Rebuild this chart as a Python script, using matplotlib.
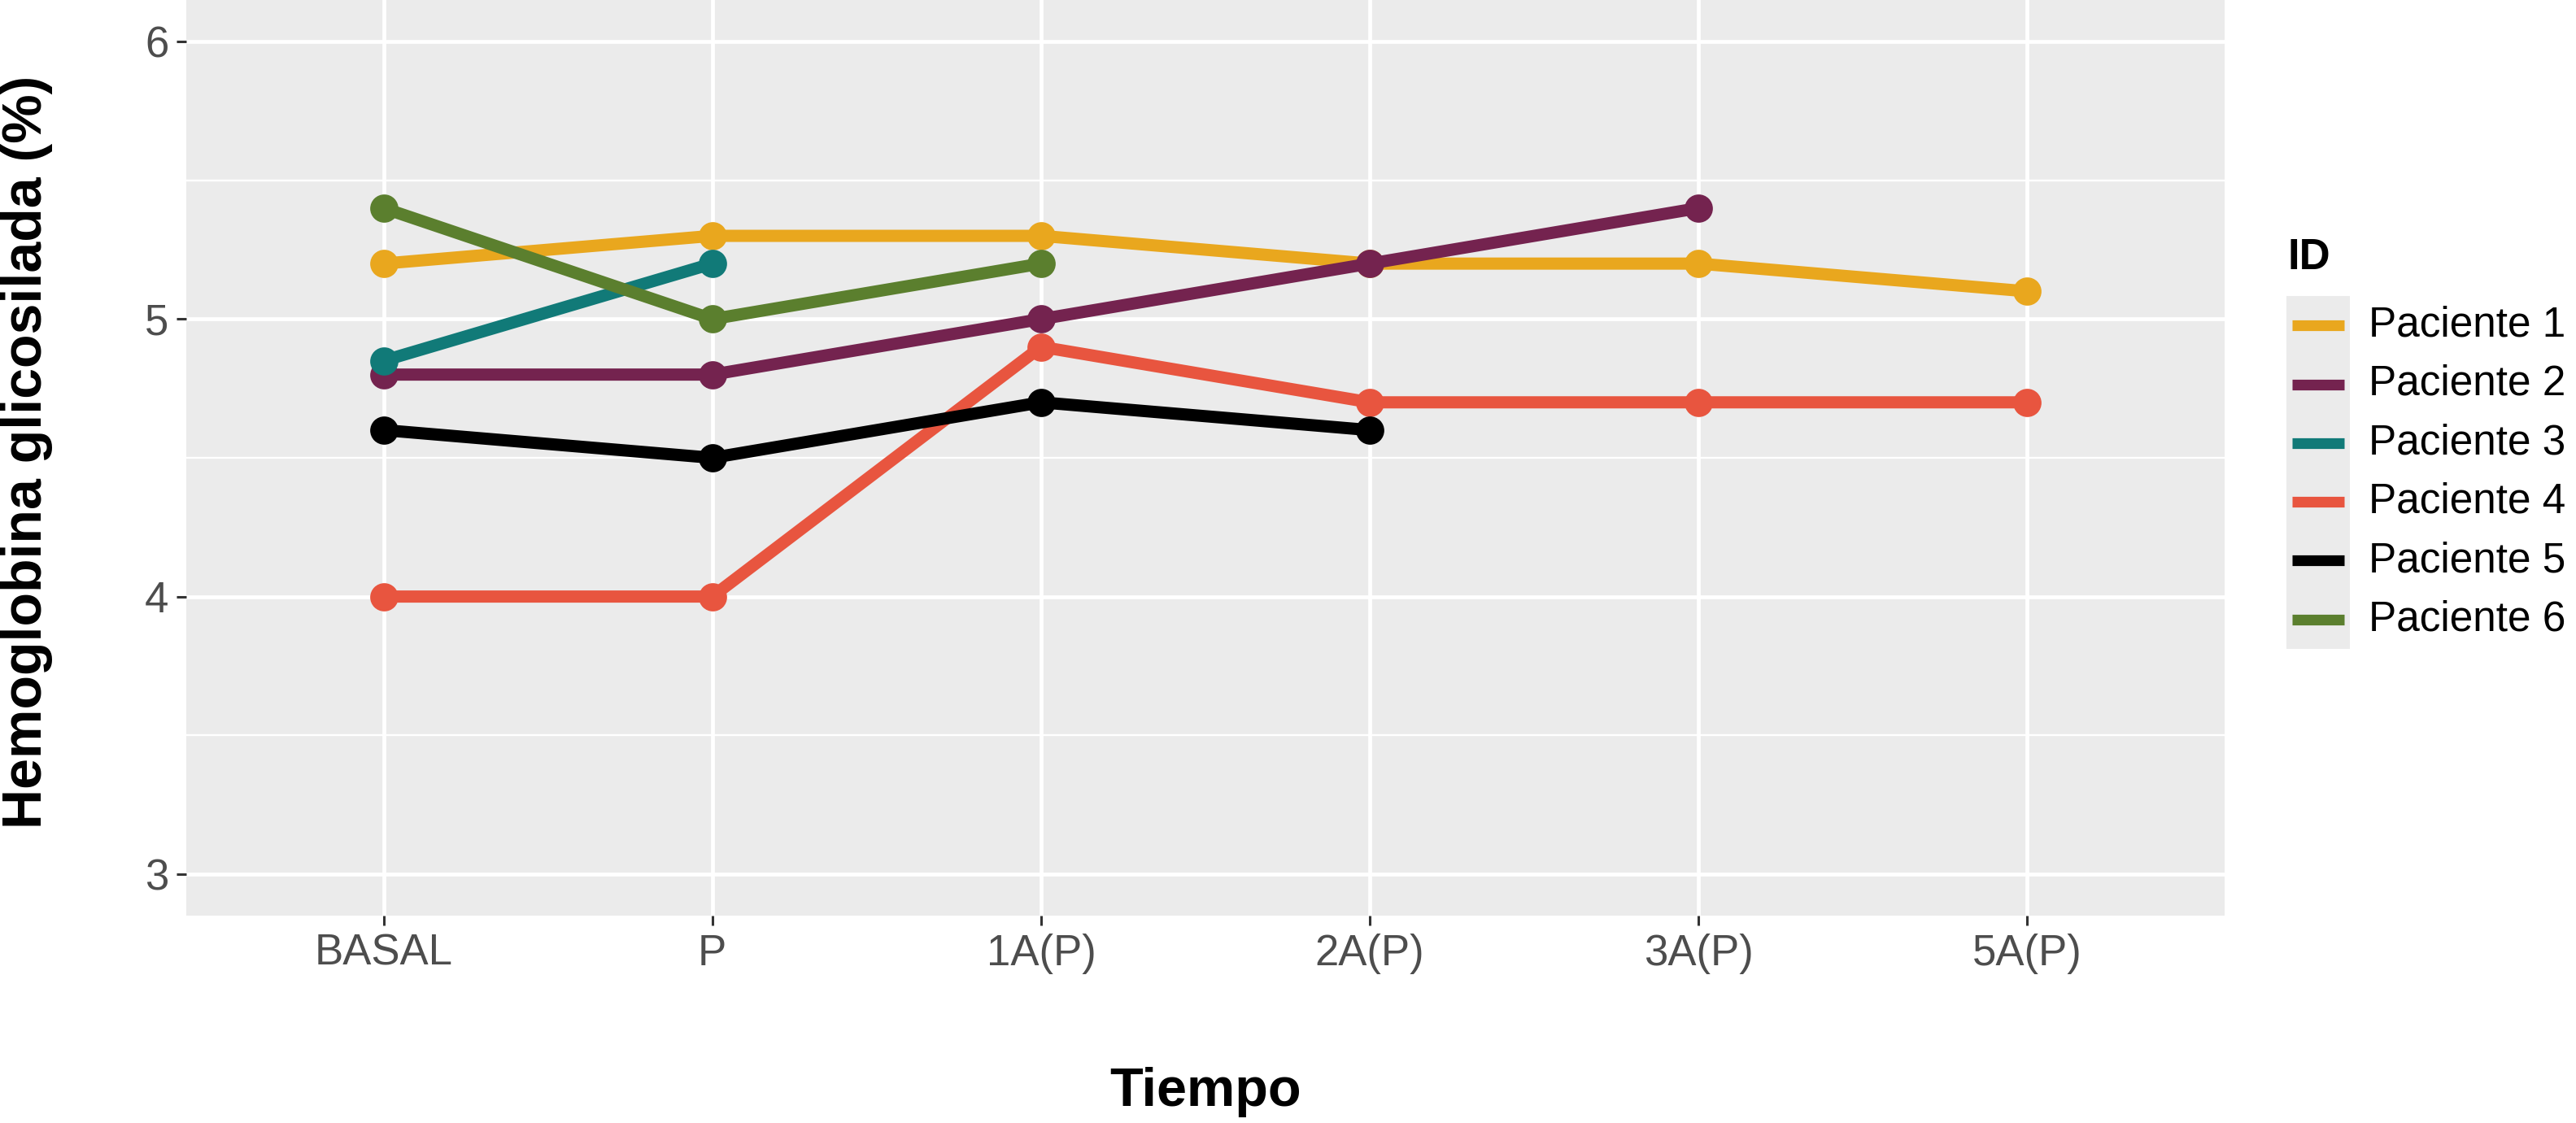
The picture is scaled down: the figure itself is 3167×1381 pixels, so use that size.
import numpy as np
import matplotlib
matplotlib.use("Agg")
import matplotlib.pyplot as plt

plt.rcParams["font.family"] = ["Liberation Sans", "DejaVu Sans"]

# data
tiempos = ["BASAL", "P", "1A(P)", "2A(P)", "3A(P)", "5A(P)"]
pacientes = ["Paciente 1", "Paciente 2", "Paciente 3", "Paciente 4", "Paciente 5", "Paciente 6"]
paciente_1 = [5.2, 5.3, 5.3, 5.2, 5.2, 5.1]
paciente_2 = [4.8, 4.8, 5.0, 5.2, 5.4]
paciente_3 = [4.85, 5.2]
paciente_4 = [4.0, 4.0, 4.9, 4.7, 4.7, 4.7]
paciente_5 = [4.6, 4.5, 4.7, 4.6]
paciente_6 = [5.4, 5.0, 5.2]
series = [paciente_1, paciente_2, paciente_3, paciente_4, paciente_5, paciente_6]
colores = ["#E9A71E", "#74234F", "#117A78", "#E8553F", "#000000", "#5B7F2E"]
y_ticks = [3, 4, 5, 6]

W, H = 3167, 1381
fig = plt.figure(figsize=(W / 100, H / 100), dpi=100)
ax = fig.add_axes([229 / W, 1 - 1126 / H, (2735 - 229) / W, 1126 / H])
ax.set_facecolor("#EBEBEB")

x = np.arange(len(tiempos))
for vals, col in zip(series, colores):
    ax.plot(x[:len(vals)], vals, color=col, lw=10.8, solid_capstyle="butt",
            marker="o", markersize=25, markeredgewidth=0, zorder=3)

ax.set_xlim(-0.6, len(tiempos) - 1 + 0.6)
ax.set_ylim(2.85, 6.15)
ax.set_xticks(x)
ax.set_xticklabels(tiempos)
ax.set_yticks(y_ticks)
ax.set_yticks([3.5, 4.5, 5.5], minor=True)
ax.grid(which="major", color="white", lw=3.4)
ax.grid(which="minor", axis="y", color="white", lw=1.7)
ax.set_axisbelow(True)
for s in ax.spines.values():
    s.set_visible(False)
ax.tick_params(which="major", length=8.6, width=2.2, color="#333333",
               labelsize=38, labelcolor="#4D4D4D", pad=7)
ax.tick_params(which="minor", length=0)

fig.text(33 / W, 1 - 556 / H, "Hemoglobina glicosilada (%)", rotation=90,
         ha="center", va="center", fontsize=49, fontweight="bold")
fig.text(1482 / W, 1 - 1360 / H, "Tiempo", ha="center", va="baseline",
         fontsize=48, fontweight="bold")

# legend drawn like ggplot: grey key column, labels to the right
fig.text(2813 / W, 1 - 317 / H, "ID", ha="left", va="center",
         fontsize=38, fontweight="bold")
lax = fig.add_axes([2811 / W, 1 - 798 / H, 78 / W, 434 / H])
lax.set_facecolor("#EBEBEB")
lax.set_xlim(0, 1)
lax.set_ylim(0, 1)
lax.set_xticks([])
lax.set_yticks([])
for s in lax.spines.values():
    s.set_visible(False)
n = len(pacientes)
for i, (nombre, col) in enumerate(zip(pacientes, colores)):
    yc = 1 - (i + 0.5) / n
    lax.plot([0.09, 0.91], [yc, yc], color=col, lw=9.5, solid_capstyle="butt")
    fig.text(2912 / W, 1 - (364 + (i + 0.5) * 434 / n) / H, nombre,
             ha="left", va="center", fontsize=37)

fig.savefig("out.png", dpi=100)
